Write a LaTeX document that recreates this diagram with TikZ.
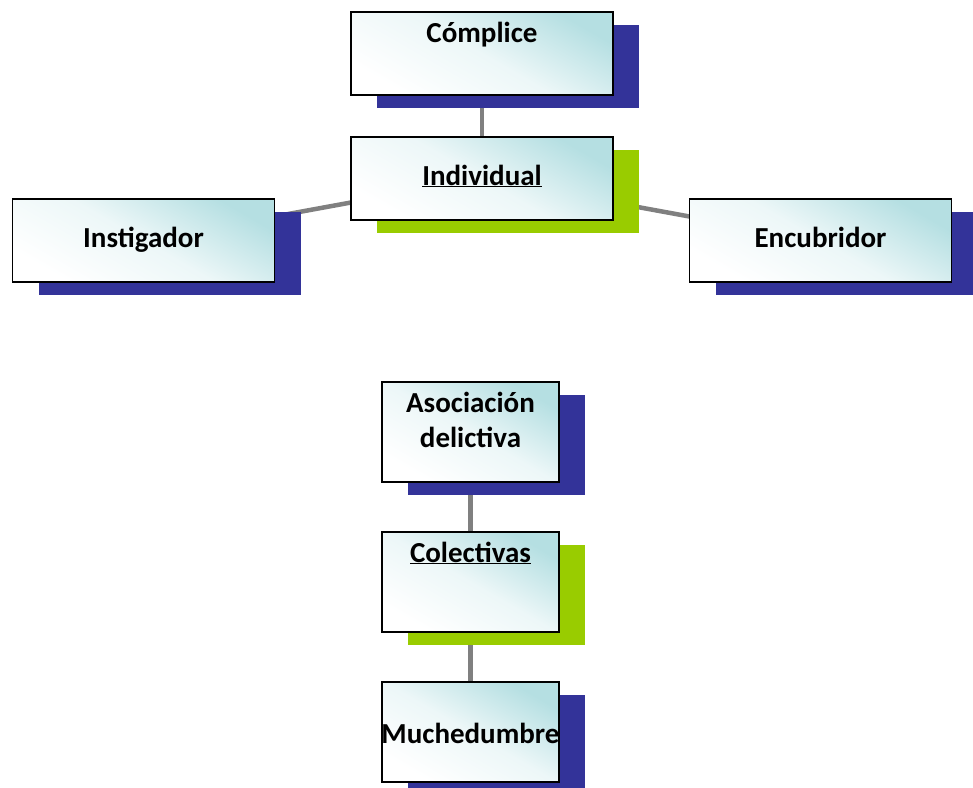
\documentclass[tikz,border=0pt]{standalone}
\usepackage{fontspec}
\setmainfont{Carlito}
\usetikzlibrary{shadows,backgrounds}
\definecolor{navyshadow}{HTML}{333399}
\definecolor{greenshadow}{HTML}{99CC00}
\definecolor{boxtint}{HTML}{B5DFE2}
\definecolor{linkgray}{HTML}{808080}
\tikzset{
  box/.style={draw=black, line width=1.5pt, inner sep=0pt,
    top color=boxtint, bottom color=white, middle color=white!75!boxtint, shading angle=-30},
  bigbox/.style={box, minimum width=262pt, minimum height=83pt},
  smallbox/.style={box, minimum width=177pt, minimum height=100pt},
  navysh/.style={general shadow={fill=navyshadow, shadow xshift=26pt, shadow yshift=-13pt}},
  greensh/.style={general shadow={fill=greenshadow, shadow xshift=26pt, shadow yshift=-13pt}},
  lbl/.style={anchor=base, inner sep=0pt, font=\fontsize{29}{35}\selectfont\bfseries},
  link/.style={draw=linkgray, line width=4.5pt}
}
\begin{document}
\begin{tikzpicture}[x=1pt, y=-1pt]
\useasboundingbox (0,0) rectangle (973,787);
% top group
\node[bigbox, navysh] (complice) at (482,53.5) {};
\node[bigbox, greensh] (individual) at (482,178.5) {};
\node[bigbox, navysh] (instigador) at (143.5,240.5) {};
\node[bigbox, navysh] (encubridor) at (820.5,240.5) {};
\node[lbl] (tcomplice) at (482,42) {Cómplice};
\node[lbl] (tindividual) at (482,185) {\underline{Individual}};
\node[lbl] (tinstigador) at (143.5,247) {Instigador};
\node[lbl] (tencubridor) at (820.5,247) {Encubridor};
% bottom group
\node[smallbox, navysh] (asociacion) at (470.5,432) {};
\node[smallbox, greensh] (colectivas) at (470.5,582) {};
\node[smallbox, navysh] (muchedumbre) at (470.5,732) {};
\node[lbl] (tasoc1) at (470.5,412) {Asociación};
\node[lbl] (tasoc2) at (470.5,447) {delictiva};
\node[lbl] (tcolectivas) at (470.5,562) {\underline{Colectivas}};
\node[lbl] (tmuchedumbre) at (470.5,743) {Muchedumbre};
\begin{scope}[on background layer]
\draw[link] (complice.center) -- (individual.center);
\draw[link] (individual.center) -- (instigador.center);
\draw[link] (individual.center) -- (encubridor.center);
\draw[link] (asociacion.center) -- (colectivas.center);
\draw[link] (colectivas.center) -- (muchedumbre.center);
\end{scope}
\end{tikzpicture}
\end{document}
